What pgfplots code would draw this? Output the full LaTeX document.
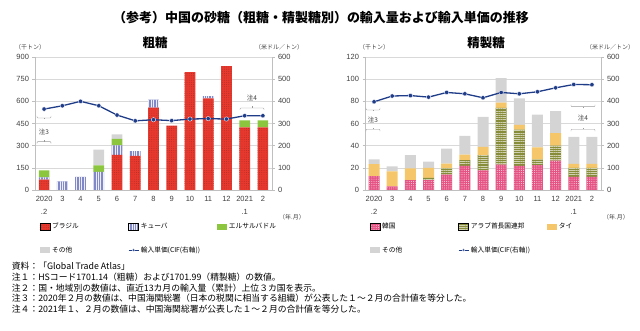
\documentclass[border=0pt]{standalone}
\usepackage{fontspec}
\setmainfont{Noto Sans CJK JP}
\newfontfamily\lib{Liberation Sans}
\usepackage{pgfplots}
\pgfplotsset{compat=1.18}
\usetikzlibrary{patterns.meta}
\definecolor{brazil}{HTML}{E8392F}
\definecolor{cuba}{HTML}{8088C8}
\definecolor{elsal}{HTML}{8CC63E}
\definecolor{other}{HTML}{D4D4D4}
\definecolor{korea}{HTML}{E45383}
\definecolor{uae}{HTML}{868C3A}
\definecolor{thai}{HTML}{F6C76A}
\definecolor{navy}{HTML}{1F3C88}
\definecolor{gridc}{HTML}{D9D9D9}
\definecolor{axc}{HTML}{BFBFBF}
\definecolor{txt}{HTML}{404040}
\tikzset{
  sBrazil/.style={fill=brazil, postaction={pattern={Dots[distance=2.2pt,radius=0.45pt]}, pattern color=brazil!75!black}},
  sCuba/.style={fill=cuba, postaction={pattern={Lines[angle=90,distance=2.4pt,line width=0.8pt]}, pattern color=white!85!cuba}},
  sElsal/.style={fill=elsal},
  sOther/.style={fill=other},
  sKorea/.style={fill=korea, postaction={pattern={Dots[distance=2.2pt,radius=0.55pt]}, pattern color=white!70!korea}},
  sUAE/.style={fill=uae, postaction={pattern={Lines[angle=0,distance=2.2pt,line width=0.8pt]}, pattern color=uae!40!white}},
  sThai/.style={fill=thai},
  brk/.style={draw=gray!80, line width=0.4pt, rounded corners=0.8pt},
}
\pgfplotsset{
  common/.style={
    scale only axis, width=237pt, height=133pt,
    xmin=-0.5, xmax=12.5,
    /pgf/number format/assume math mode=true,
    tick label style={font=\lib\fontsize{7.5}{9}\selectfont, text=txt},
    tick align=outside, major tick length=2.5pt,
    tick style={axc, line width=0.5pt},
    axis line style={axc, line width=0.6pt},
  },
  barax/.style={common,
    ybar stacked, bar width=10.7pt,
    axis x line*=bottom, axis y line*=left,
    ymajorgrids, grid style={gridc, line width=0.5pt},
    xtick={0,...,12},
    xticklabels={{2020\\.2},3,4,5,6,7,8,9,10,11,12,{2021\\.1},2},
    xticklabel style={align=center, font=\lib\fontsize{7.5}{13.5}\selectfont},
    x tick style={draw=none},
    ymin=0,
  },
  lineax/.style={common, hide x axis, axis y line*=right, ymin=0, ymax=600, ytick={0,100,...,600},
    legend columns=3, legend cell align=left,
    legend style={at={(0.02,-0.235)}, anchor=north west, draw=none, fill=none,
      inner sep=0pt, outer sep=0pt, row sep=12pt,
      font=\fontsize{6.7}{8}\selectfont,
      /tikz/every even column/.append style={column sep=0pt}},
  },
  pline/.style={navy, line width=1.3pt, mark=*, mark size=2.2pt,
    mark options={fill=navy, draw=white, line width=0.35pt},
    legend image code/.code={\draw[##1, line width=0.8pt, mark size=1.4pt, mark repeat=2, mark phase=2] plot coordinates {(0pt,0pt) (5pt,0pt) (10pt,0pt)};}},
}
\newcommand{\boximg}[1]{\addlegendimage{legend image code/.code={\fill[#1, draw=none] (0pt,-3.3pt) rectangle (10pt,3.3pt);}}}
\begin{document}
\begin{tikzpicture}
\useasboundingbox (0pt,0pt) rectangle (640pt,331pt);
% ---------- titles ----------
\node[font=\fontsize{13}{15}\selectfont\bfseries] at (321pt,313pt) {（参考）中国の砂糖（粗糖・精製糖別）の輸入量および輸入単価の推移};
\node[font=\fontsize{12.5}{14}\selectfont\bfseries] at (155pt,288pt) {粗糖};
\node[font=\fontsize{12.5}{14}\selectfont\bfseries] at (486pt,288pt) {精製糖};
\node[font=\fontsize{6}{7}\selectfont, text=txt] at (30pt,283.3pt) {（千トン）};
\node[font=\fontsize{6}{7}\selectfont, text=txt] at (279pt,283.3pt) {（米ドル／トン）};
\node[font=\fontsize{6}{7}\selectfont, text=txt] at (374pt,283.3pt) {（千トン）};
\node[font=\fontsize{6}{7}\selectfont, text=txt] at (610pt,283.3pt) {（米ドル／トン）};
\node[font=\fontsize{6}{7}\selectfont, text=txt] at (292pt,114pt) {（年.月）};
\node[font=\fontsize{6}{7}\selectfont, text=txt] at (616pt,114pt) {（年.月）};

% ---------- left chart: bars ----------
\begin{axis}[barax, at={(35pt,141pt)}, anchor=south west, ymax=900, ytick={0,150,...,900}]
\addplot[sBrazil, draw=none] coordinates {(0,70) (1,0) (2,0) (3,0) (4,238) (5,231) (6,557) (7,435) (8,797) (9,620) (10,838) (11,423) (12,423)};
\addplot[sCuba, draw=none] coordinates {(0,15) (1,58) (2,88) (3,122) (4,64) (5,32) (6,55) (7,0) (8,0) (9,15) (10,0) (11,0) (12,0)};
\addplot[sElsal, draw=none] coordinates {(0,47) (1,0) (2,0) (3,44) (4,44) (5,0) (6,0) (7,0) (8,0) (9,0) (10,0) (11,48) (12,48)};
\addplot[sOther, draw=none] coordinates {(0,0) (1,0) (2,0) (3,107) (4,30) (5,0) (6,0) (7,0) (8,0) (9,0) (10,0) (11,0) (12,0)};
\end{axis}
% ---------- left chart: line ----------
\begin{axis}[lineax, at={(35pt,141pt)}, anchor=south west]
\boximg{sBrazil}
\addlegendentry{\makebox[74pt][l]{ブラジル}}
\boximg{sCuba}
\addlegendentry{\makebox[74pt][l]{キューバ}}
\boximg{sElsal}
\addlegendentry{\makebox[74pt][l]{エルサルバドル}}
\boximg{sOther}
\addlegendentry{\makebox[74pt][l]{その他}}
\addplot[pline] coordinates {(0,365) (1,380) (2,400) (3,380) (4,338) (5,312) (6,317) (7,313) (8,320) (9,322) (10,320) (11,335) (12,335)};
\addlegendentry{\makebox[74pt][l]{輸入単価(CIF(右軸))}}
\end{axis}

% ---------- right chart: bars ----------
\begin{axis}[barax, at={(365pt,141pt)}, anchor=south west, width=236pt, ymax=120, ytick={0,20,...,120}, bar width=11pt]
\addplot[sKorea, draw=none] coordinates {(0,12.5) (1,3.3) (2,8.8) (3,8.8) (4,13.9) (5,21.8) (6,17.6) (7,23) (8,21.8) (9,22.4) (10,26.4) (11,11.8) (12,11.8)};
\addplot[sUAE, draw=none] coordinates {(0,0) (1,0) (2,0) (3,2.1) (4,5.5) (5,5.2) (6,13.9) (7,51) (8,32.7) (9,4.9) (10,13.6) (11,8.2) (12,8.2)};
\addplot[sThai, draw=none] coordinates {(0,10.8) (1,13.4) (2,10.6) (3,9.1) (4,4.5) (5,4.8) (6,7.3) (7,4.8) (8,4.3) (9,11.2) (10,11.2) (11,3.6) (12,3.6)};
\addplot[sOther, draw=none] coordinates {(0,4.3) (1,4.5) (2,12.1) (3,5.5) (4,13.4) (5,17) (6,27.2) (7,22.2) (8,23.8) (9,29.4) (10,20) (11,24.3) (12,24.3)};
\end{axis}
% ---------- right chart: line ----------
\begin{axis}[lineax, at={(365pt,141pt)}, anchor=south west, width=236pt]
\boximg{sKorea}
\addlegendentry{\makebox[74pt][l]{韓国}}
\boximg{sUAE}
\addlegendentry{\makebox[74pt][l]{アラブ首長国連邦}}
\boximg{sThai}
\addlegendentry{\makebox[74pt][l]{タイ}}
\boximg{sOther}
\addlegendentry{\makebox[74pt][l]{その他}}
\addplot[pline] coordinates {(0,398) (1,424) (2,426) (3,419) (4,440) (5,434) (6,416) (7,440) (8,434) (9,443) (10,461) (11,476) (12,475)};
\addlegendentry{\makebox[74pt][l]{輸入単価(CIF(右軸))}}
\end{axis}

% ---------- note brackets ----------
\begin{scope}[font=\fontsize{6.5}{7}\selectfont, text=txt]
\draw[brk] (37pt,215pt) -- (37pt,213pt) -- (51pt,213pt) -- (51pt,215pt); \draw[brk] (44pt,213pt) -- (44pt,211.5pt);
\node at (44pt,199pt) {注3};
\draw[brk] (37pt,187.3pt) -- (37pt,189.3pt) -- (51pt,189.3pt) -- (51pt,187.3pt); \draw[brk] (44pt,189.3pt) -- (44pt,190.8pt);
\node at (252pt,232.7pt) {注4};
\draw[brk] (240pt,221pt) -- (240pt,223pt) -- (264pt,223pt) -- (264pt,221pt); \draw[brk] (252pt,223pt) -- (252pt,224.5pt);
\draw[brk] (366pt,223pt) -- (366pt,221pt) -- (380pt,221pt) -- (380pt,223pt); \draw[brk] (373pt,221pt) -- (373pt,219.5pt);
\node at (373pt,211pt) {注3};
\draw[brk] (366pt,199.7pt) -- (366pt,201.7pt) -- (380pt,201.7pt) -- (380pt,199.7pt); \draw[brk] (373pt,201.7pt) -- (373pt,203.2pt);
\draw[brk] (571pt,226.3pt) -- (571pt,224.3pt) -- (595pt,224.3pt) -- (595pt,226.3pt); \draw[brk] (583pt,224.3pt) -- (583pt,222.8pt);
\node at (583pt,212.7pt) {注4};
\draw[brk] (571pt,199.7pt) -- (571pt,201.7pt) -- (595pt,201.7pt) -- (595pt,199.7pt); \draw[brk] (583pt,201.7pt) -- (583pt,203.2pt);
\end{scope}

% ---------- source and notes ----------
\begin{scope}[every node/.style={anchor=west, inner sep=0pt, font=\fontsize{8.8}{10}\selectfont}]
\node at (11.7pt,65pt) {資料：「Global Trade Atlas」};
\node at (11.7pt,54.3pt) {注１：HSコード1701.14（粗糖）および1701.99（精製糖）の数値。};
\node at (11.7pt,43.3pt) {注２：国・地域別の数値は、直近13カ月の輸入量（累計）上位３カ国を表示。};
\node at (11.7pt,32.7pt) {注３：2020年２月の数値は、中国海関総署（日本の税関に相当する組織）が公表した１～２月の合計値を等分した。};
\node at (11.7pt,22.3pt) {注４：2021年１、２月の数値は、中国海関総署が公表した１～２月の合計値を等分した。};
\end{scope}
\end{tikzpicture}
\end{document}
